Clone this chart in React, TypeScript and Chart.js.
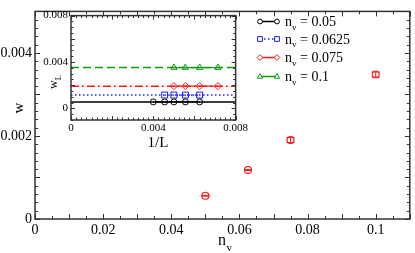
import React, { useEffect, useRef } from "react";
import { Chart, registerables } from "chart.js";
Chart.register(...registerables);

// ---- main plot data ----
const mainNv = [0.05, 0.0625, 0.075, 0.1];
const mainW = [0.00056, 0.00118, 0.0019, 0.00348];
const mainErr = [0.00001, 0.00001, 0.00006, 0.00006];
const mainXTicks = [0, 0.02, 0.04, 0.06, 0.08, 0.1];
const mainXLabels = ["0", "0.02", "0.04", "0.06", "0.08", "0.1"];
const mainYTicks = [0, 0.002, 0.004];
const mainYLabels = ["0", "0.002", "0.004"];

// ---- inset data ----
const invL_a = [0.004, 0.00455, 0.005, 0.00556, 0.00625];
const wL_a = [0.00056, 0.00056, 0.00056, 0.00056, 0.00056];
const invL_b = [0.00455, 0.005, 0.00556, 0.00625];
const wL_b = [0.00115, 0.00115, 0.00115, 0.00115];
const invL_c = [0.005, 0.00556, 0.00625, 0.00714];
const wL_c = [0.00192, 0.00192, 0.00192, 0.00192];
const invL_d = [0.005, 0.00556, 0.00625, 0.00714];
const wL_d = [0.00352, 0.00352, 0.00352, 0.00352];
const fitRange = [0, 0.008];
const fitW = [0.00056, 0.00115, 0.00192, 0.00352];
const insetXTicks = [0, 0.004, 0.008];
const insetXLabels = ["0", "0.004", "0.008"];
const insetYTicks = [0, 0.004, 0.008];
const insetYLabels = ["0", "0.004", "0.008"];
const legendValues = ["0.05", "0.0625", "0.075", "0.1"];

const COLORS = ["#000000", "#1a1aff", "#ff1a1a", "#109a10"];
const STYLES = ["circle", "rect", "rectRot", "triangle"];
const RADII = [3, 4.2, 3.6, 3.6];
const DATA_DASH: number[][] = [[], [1.5, 2.5], [], []];
const FIT_DASH: number[][] = [[], [1.5, 2.5], [8, 3, 2, 3], [8, 4]];

const SERIF = "'Liberation Serif', 'DejaVu Serif', serif";
const FRAME = "#333333";

function drawInnerTicks(
  ctx: CanvasRenderingContext2D,
  chart: any,
  xMin: number, xMax: number, xMajor: number, xMinor: number,
  yMin: number, yMax: number, yMajor: number, yMinor: number,
  majLen: number, minLen: number
) {
  const a = chart.chartArea;
  const xs = chart.scales.x;
  const ys = chart.scales.y;
  ctx.save();
  ctx.strokeStyle = FRAME;
  ctx.lineWidth = 1;
  ctx.beginPath();
  const nx = Math.round((xMax - xMin) / xMinor);
  const perX = Math.round(xMajor / xMinor);
  for (let k = 0; k <= nx; k++) {
    const v = xMin + k * xMinor;
    const px = Math.round(xs.getPixelForValue(v)) + 0.5;
    const len = k % perX === 0 ? majLen : minLen;
    ctx.moveTo(px, a.bottom);
    ctx.lineTo(px, a.bottom - len);
    ctx.moveTo(px, a.top);
    ctx.lineTo(px, a.top + len);
  }
  const ny = Math.round((yMax - yMin) / yMinor);
  const perY = Math.round(yMajor / yMinor);
  for (let k = 0; k <= ny; k++) {
    const v = yMin + k * yMinor;
    const py = Math.round(ys.getPixelForValue(v)) + 0.5;
    const len = Math.round((v - 0) / yMinor) % perY === 0 ? majLen : minLen;
    ctx.moveTo(a.left, py);
    ctx.lineTo(a.left + len, py);
    ctx.moveTo(a.right, py);
    ctx.lineTo(a.right - len, py);
  }
  ctx.stroke();
  ctx.lineWidth = 1.5;
  ctx.strokeRect(a.left, a.top, a.right - a.left, a.bottom - a.top);
  ctx.restore();
}

function drawMarker(ctx: CanvasRenderingContext2D, style: string, x: number, y: number, r: number) {
  ctx.beginPath();
  if (style === "circle") {
    ctx.arc(x, y, r, 0, Math.PI * 2);
  } else if (style === "rect") {
    const s = r * Math.SQRT1_2;
    ctx.rect(x - s, y - s, 2 * s, 2 * s);
  } else if (style === "rectRot") {
    ctx.moveTo(x, y - r);
    ctx.lineTo(x + r, y);
    ctx.lineTo(x, y + r);
    ctx.lineTo(x - r, y);
    ctx.closePath();
  } else {
    const h = r * 1.5;
    ctx.moveTo(x, y - r);
    ctx.lineTo(x + r * 0.95, y + r * 0.6);
    ctx.lineTo(x - r * 0.95, y + r * 0.6);
    ctx.closePath();
    void h;
  }
  ctx.fillStyle = "#ffffff";
  ctx.fill();
  ctx.stroke();
}

export default function App() {
  const mainRef = useRef<HTMLCanvasElement>(null);
  const insetRef = useRef<HTMLCanvasElement>(null);

  useEffect(() => {
    document.body.style.margin = "0";
    const mainPlugin = {
      id: "mainDeco",
      afterDatasetsDraw(chart: any) {
        const ctx: CanvasRenderingContext2D = chart.ctx;
        const xs = chart.scales.x;
        const ys = chart.scales.y;
        // error bars
        ctx.save();
        ctx.strokeStyle = "#ff1a1a";
        ctx.lineWidth = 1;
        for (let i = 0; i < mainNv.length; i++) {
          const px = xs.getPixelForValue(mainNv[i]);
          const p1 = ys.getPixelForValue(mainW[i] - mainErr[i]);
          const p2 = ys.getPixelForValue(mainW[i] + mainErr[i]);
          ctx.beginPath();
          ctx.moveTo(px, p1);
          ctx.lineTo(px, p2);
          ctx.moveTo(px - 4, p1);
          ctx.lineTo(px + 4, p1);
          ctx.moveTo(px - 4, p2);
          ctx.lineTo(px + 4, p2);
          ctx.stroke();
        }
        ctx.restore();
      },
      afterDraw(chart: any) {
        const ctx: CanvasRenderingContext2D = chart.ctx;
        drawInnerTicks(ctx, chart, 0, 0.11, 0.01, 0.005, 0, 0.005, 0.001, 0.0002, 5, 3);
        ctx.save();
        ctx.fillStyle = "#000";
        // y title
        ctx.font = `15px ${SERIF}`;
        ctx.textAlign = "center";
        ctx.textBaseline = "middle";
        ctx.translate(19, 108);
        ctx.rotate(-Math.PI / 2);
        ctx.fillText("w", 0, 0);
        ctx.restore();
        // x title
        ctx.save();
        ctx.fillStyle = "#000";
        ctx.textBaseline = "alphabetic";
        ctx.textAlign = "left";
        ctx.font = `16px ${SERIF}`;
        ctx.fillText("n", 218, 245);
        ctx.font = `11px ${SERIF}`;
        ctx.fillText("v", 226.5, 251);
        ctx.restore();
        // legend
        ctx.save();
        const rows = [26, 43.5, 62, 81];
        for (let i = 0; i < 4; i++) {
          const y = rows[i] - 4.5;
          ctx.strokeStyle = COLORS[i];
          ctx.lineWidth = 1.5;
          ctx.setLineDash(DATA_DASH[i]);
          ctx.beginPath();
          ctx.moveTo(260, y);
          ctx.lineTo(277, y);
          ctx.stroke();
          ctx.setLineDash([]);
          ctx.lineWidth = 1;
          drawMarker(ctx, STYLES[i], 260, y, RADII[i] * 0.8);
          drawMarker(ctx, STYLES[i], 277, y, RADII[i] * 0.8);
          ctx.fillStyle = "#000";
          ctx.textAlign = "left";
          ctx.textBaseline = "alphabetic";
          ctx.font = `14px ${SERIF}`;
          ctx.fillText("n", 285, rows[i]);
          const nW = ctx.measureText("n").width;
          ctx.font = `9px ${SERIF}`;
          ctx.fillText("v", 285 + nW, rows[i] + 3.5);
          const vW = ctx.measureText("v").width;
          ctx.font = `14px ${SERIF}`;
          ctx.fillText(" = " + legendValues[i], 285 + nW + vW, rows[i]);
        }
        ctx.restore();
      },
    };

    const main = new Chart(mainRef.current as HTMLCanvasElement, {
      type: "scatter",
      data: {
        datasets: [
          {
            data: mainNv.map((x, i) => ({ x, y: mainW[i] })),
            pointStyle: "circle",
            pointRadius: 3.5,
            pointBorderWidth: 1.2,
            borderColor: "#ff1a1a",
            backgroundColor: "rgba(255,255,255,0)",
            showLine: false,
          },
        ],
      },
      options: {
        animation: false,
        responsive: false,
        devicePixelRatio: 1,
        layout: { padding: { top: 1, right: 2, left: 0, bottom: 0 } },
        plugins: { legend: { display: false }, tooltip: { enabled: false } },
        scales: {
          x: {
            type: "linear",
            min: 0,
            max: 0.11,
            grid: { display: false, drawTicks: false },
            border: { display: false },
            afterBuildTicks: (s: any) => {
              s.ticks = mainXTicks.map((v) => ({ value: v }));
            },
            afterFit: (s: any) => {
              s.height = 34;
            },
            ticks: {
              padding: 3,
              autoSkip: false,
              maxRotation: 0,
              color: "#000",
              font: { family: SERIF, size: 14 },
              callback: (_v: any, i: number) => mainXLabels[i],
            },
          },
          y: {
            type: "linear",
            min: 0,
            max: 0.005,
            grid: { display: false, drawTicks: false },
            border: { display: false },
            afterBuildTicks: (s: any) => {
              s.ticks = mainYTicks.map((v) => ({ value: v }));
            },
            afterFit: (s: any) => {
              s.width = 35;
            },
            ticks: {
              padding: 3,
              autoSkip: false,
              color: "#000",
              font: { family: SERIF, size: 14 },
              callback: (_v: any, i: number) => mainYLabels[i],
            },
          },
        },
      },
      plugins: [mainPlugin],
    } as any);

    const insetPlugin = {
      id: "insetDeco",
      beforeDatasetsDraw(chart: any) {
        const ctx: CanvasRenderingContext2D = chart.ctx;
        const a = chart.chartArea;
        ctx.save();
        ctx.fillStyle = "#ffffff";
        ctx.fillRect(a.left, a.top, a.right - a.left, a.bottom - a.top);
        ctx.restore();
      },
      beforeDraw(chart: any) {
        const ctx: CanvasRenderingContext2D = chart.ctx;
        const a = chart.chartArea;
        ctx.save();
        ctx.fillStyle = "#ffffff";
        ctx.fillRect(a.left, a.top, a.right - a.left, a.bottom - a.top);
        ctx.restore();
      },
      afterDraw(chart: any) {
        const ctx: CanvasRenderingContext2D = chart.ctx;
        drawInnerTicks(ctx, chart, 0, 0.008, 0.002, 0.00025, -0.001, 0.008, 0.002, 0.0005, 4, 2.5);
        ctx.save();
        ctx.fillStyle = "#000";
        ctx.textAlign = "center";
        ctx.textBaseline = "middle";
        ctx.font = `15px ${SERIF}`;
        ctx.fillText("1/L", 118, 137);
        ctx.translate(14, 77);
        ctx.rotate(-Math.PI / 2);
        ctx.textAlign = "left";
        ctx.textBaseline = "alphabetic";
        ctx.font = `12px ${SERIF}`;
        const w = ctx.measureText("w").width;
        ctx.fillText("w", -6, 3);
        ctx.font = `9px ${SERIF}`;
        ctx.fillText("L", -6 + w, 6.5);
        ctx.restore();
      },
    };

    const dataSets = [
      [invL_a, wL_a],
      [invL_b, wL_b],
      [invL_c, wL_c],
      [invL_d, wL_d],
    ];
    const insetDatasets: any[] = [];
    for (let i = 0; i < 4; i++) {
      insetDatasets.push({
        data: fitRange.map((x) => ({ x, y: fitW[i] })),
        borderColor: COLORS[i],
        borderWidth: 1.5,
        borderDash: FIT_DASH[i],
        pointRadius: 0,
        showLine: true,
        fill: false,
      });
    }
    for (let i = 0; i < 4; i++) {
      const [xs, ys] = dataSets[i];
      insetDatasets.push({
        data: xs.map((x, j) => ({ x, y: ys[j] })),
        borderColor: COLORS[i],
        borderWidth: 1.2,
        borderDash: DATA_DASH[i],
        pointStyle: STYLES[i],
        pointRadius: RADII[i],
        pointBorderWidth: 1,
        pointBorderColor: COLORS[i],
        pointBackgroundColor: "rgba(255,255,255,0)",
        showLine: true,
        fill: false,
      });
    }

    const inset = new Chart(insetRef.current as HTMLCanvasElement, {
      type: "scatter",
      data: { datasets: insetDatasets },
      options: {
        animation: false,
        responsive: false,
        devicePixelRatio: 1,
        layout: { padding: { top: 7.5, right: 4, left: 0, bottom: 0 } },
        plugins: { legend: { display: false }, tooltip: { enabled: false } },
        scales: {
          x: {
            type: "linear",
            min: 0,
            max: 0.008,
            grid: { display: false, drawTicks: false },
            border: { display: false },
            afterBuildTicks: (s: any) => {
              s.ticks = insetXTicks.map((v) => ({ value: v }));
            },
            afterFit: (s: any) => {
              s.height = 30;
            },
            ticks: {
              padding: 2,
              autoSkip: false,
              maxRotation: 0,
              color: "#000",
              font: { family: SERIF, size: 11 },
              callback: (_v: any, i: number) => insetXLabels[i],
            },
          },
          y: {
            type: "linear",
            min: -0.001,
            max: 0.008,
            grid: { display: false, drawTicks: false },
            border: { display: false },
            afterBuildTicks: (s: any) => {
              s.ticks = insetYTicks.map((v) => ({ value: v }));
            },
            afterFit: (s: any) => {
              s.width = 31;
            },
            ticks: {
              padding: 3,
              autoSkip: false,
              color: "#000",
              font: { family: SERIF, size: 11 },
              callback: (_v: any, i: number) => insetYLabels[i],
            },
          },
        },
      },
      plugins: [insetPlugin],
    } as any);

    return () => {
      main.destroy();
      inset.destroy();
    };
  }, []);

  return (
    <div style={{ position: "relative", width: 415, height: 253 }}>
      <canvas ref={mainRef} width={415} height={253} style={{ position: "absolute", left: 0, top: 0 }} />
      <canvas ref={insetRef} width={210} height={144} style={{ position: "absolute", left: 40, top: 6 }} />
    </div>
  );
}
